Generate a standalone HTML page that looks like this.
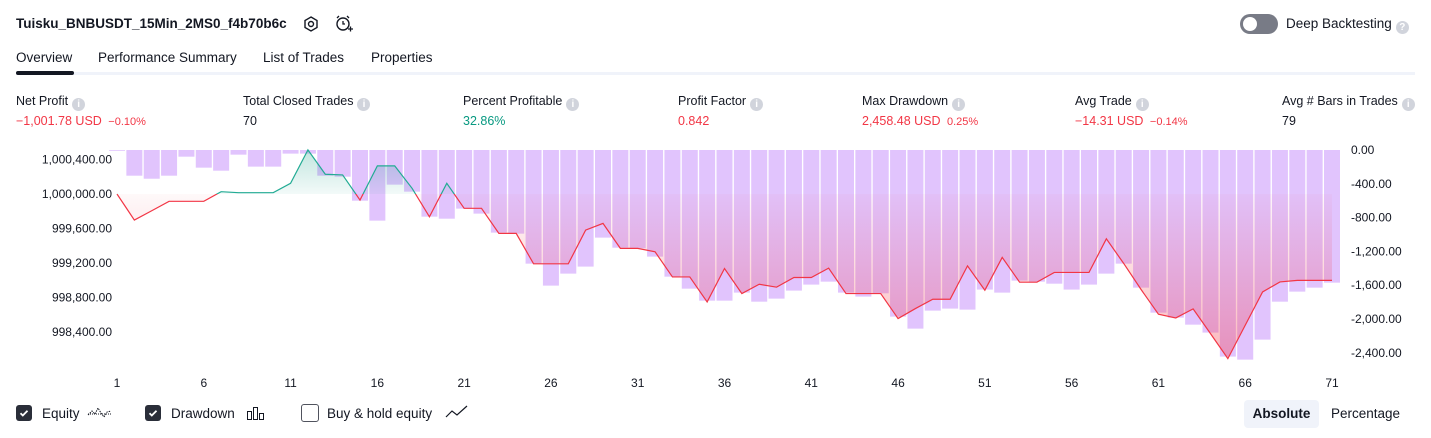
<!DOCTYPE html>
<html><head><meta charset="utf-8">
<style>
body{margin:0;width:1431px;height:438px;background:#fff;font-family:"Liberation Sans",sans-serif;color:#131722;position:relative;overflow:hidden}
.abs{position:absolute;white-space:nowrap}
.info{display:inline-block;width:13px;height:13px;border-radius:50%;background:#d1d4dc;color:#fff;font-size:10px;line-height:13px;text-align:center;vertical-align:-2px;margin-left:4px;font-weight:bold}
.lbl{font-size:12.5px}
.val{font-size:12.5px;top:114px}
.red{color:#f23645}.grn{color:#089981}
.tab{font-size:13.5px;top:50px}
.cb{position:absolute;width:16px;height:16px;border-radius:3px;top:405px}
</style></head><body>
<div class="abs" style="left:16px;top:16px;font-size:13.5px;font-weight:bold">Tuisku_BNBUSDT_15Min_2MS0_f4b70b6c</div>
<svg class="abs" style="left:302px;top:15px" width="18" height="18"><polygon points="9,2 15,5.5 15,12.5 9,16 3,12.5 3,5.5" fill="none" stroke="#131722" stroke-width="1.4"/><circle cx="9" cy="9" r="2.5" fill="none" stroke="#131722" stroke-width="1.4"/></svg>
<svg class="abs" style="left:334px;top:14px" width="20" height="20"><circle cx="9" cy="10" r="6" fill="none" stroke="#131722" stroke-width="1.4"/><path d="M9 7v3h2M3 4l2-2M15 4l-2-2M14 15h5M16.5 12.5v5" stroke="#131722" stroke-width="1.3" fill="none"/></svg>
<div class="abs" style="left:1240px;top:14px;width:38px;height:20px;border-radius:10px;background:#787b86"><div style="position:absolute;left:3px;top:3px;width:14px;height:14px;border-radius:50%;background:#fff"></div></div>
<div class="abs" style="left:1286px;top:16px;font-size:13.5px">Deep Backtesting<span class="info">?</span></div>

<div class="abs tab" style="left:16px">Overview</div>
<div class="abs tab" style="left:98px">Performance Summary</div>
<div class="abs tab" style="left:263px">List of Trades</div>
<div class="abs tab" style="left:371px">Properties</div>
<div class="abs" style="left:16px;top:72px;width:1399px;height:3px;background:#f0f3fa"></div>
<div class="abs" style="left:16px;top:71px;width:58px;height:4px;border-radius:2px;background:#131722"></div>

<div class="abs lbl" style="left:16px;top:94px">Net Profit<span class="info">i</span></div>
<div class="abs val red" style="left:16px">−1,001.78 USD <span style="font-size:11px;margin-left:3px">−0.10%</span></div>
<div class="abs lbl" style="left:243px;top:94px">Total Closed Trades<span class="info">i</span></div>
<div class="abs val" style="left:243px">70</div>
<div class="abs lbl" style="left:463px;top:94px">Percent Profitable<span class="info">i</span></div>
<div class="abs val grn" style="left:463px">32.86%</div>
<div class="abs lbl" style="left:678px;top:94px">Profit Factor<span class="info">i</span></div>
<div class="abs val red" style="left:678px">0.842</div>
<div class="abs lbl" style="left:862px;top:94px">Max Drawdown<span class="info">i</span></div>
<div class="abs val red" style="left:862px">2,458.48 USD <span style="font-size:11px;margin-left:3px">0.25%</span></div>
<div class="abs lbl" style="left:1075px;top:94px">Avg Trade<span class="info">i</span></div>
<div class="abs val red" style="left:1075px">−14.31 USD <span style="font-size:11px;margin-left:3px">−0.14%</span></div>
<div class="abs lbl" style="left:1282px;top:94px">Avg # Bars in Trades<span class="info">i</span></div>
<div class="abs val" style="left:1282px">79</div>

<svg id="chart" class="abs" style="left:0;top:0" width="1431" height="400"></svg>

<div class="cb" style="left:16px;background:#2a2e39"><svg width="16" height="16"><path d="M4.5 8.2l2.3 2.3 4.7-4.8" stroke="#fff" stroke-width="1.8" fill="none"/></svg></div>
<div class="abs" style="left:42px;top:406px;font-size:13.5px">Equity</div>
<svg class="abs" style="left:87px;top:403px" width="26" height="20"><path d="M1 12l4-4 3 3 3-6 3 5 3 4 3-5 4-1" stroke="#131722" fill="none" stroke-dasharray="1.5 1"/><path d="M1 11h24" stroke="#131722" stroke-dasharray="1 1"/></svg>
<div class="cb" style="left:145px;background:#2a2e39"><svg width="16" height="16"><path d="M4.5 8.2l2.3 2.3 4.7-4.8" stroke="#fff" stroke-width="1.8" fill="none"/></svg></div>
<div class="abs" style="left:171px;top:406px;font-size:13.5px">Drawdown</div>
<svg class="abs" style="left:246px;top:405px" width="20" height="16"><rect x="1.5" y="6.5" width="4" height="8" fill="none" stroke="#131722"/><rect x="7.5" y="2.5" width="4" height="12" fill="none" stroke="#131722"/><rect x="13.5" y="8.5" width="4" height="6" fill="none" stroke="#131722"/></svg>
<div class="cb" style="left:301px;border:1px solid #50535e;width:16px;height:16px;top:404px"></div>
<div class="abs" style="left:327px;top:406px;font-size:13.5px">Buy &amp; hold equity</div>
<svg class="abs" style="left:445px;top:404px" width="24" height="16"><path d="M1 13l6-6 5 4 10-9" stroke="#131722" fill="none" stroke-width="1.2"/></svg>
<div class="abs" style="left:1244px;top:400px;width:75px;height:28px;border-radius:4px;background:#f0f3fa;font-size:13.5px;font-weight:bold;text-align:center;line-height:28px">Absolute</div>
<div class="abs" style="left:1331px;top:406px;font-size:13.5px">Percentage</div>

<script>
const trades = Array.from({length:71},(_,i)=>i+1);
const equity = [1000000,999698,999806,999915,999915,999915,1000027,1000015,1000015,1000015,1000124,1000512,1000229,1000221,999930,1000326,1000326,1000066,999736,1000124,999834,999834,999543,999543,999190,999190,999190,999581,999659,999369,999369,999329,999038,999038,998748,999136,998845,998953,998919,999031,999031,999140,998845,998845,998845,998555,998671,998779,998779,999166,998884,999264,998977,998977,999090,999090,999090,999480,999194,998892,998605,998562,998667,998380,998090,998477,998864,998980,998998,998998,998998];
const drawdown = [-8,-304,-340,-304,-79,-209,-245,-55,-197,-197,-43,-43,-304,-316,-600,-836,-410,-493,-789,-813,-694,-753,-978,-990,-1345,-1605,-1463,-1380,-1037,-1156,-1163,-1262,-1499,-1641,-1783,-1783,-1688,-1795,-1759,-1664,-1593,-1558,-1688,-1735,-1696,-1972,-2114,-1901,-1877,-1889,-1652,-1688,-1546,-1558,-1582,-1652,-1593,-1463,-1345,-1629,-1925,-1984,-2067,-2161,-2445,-2481,-2244,-1795,-1676,-1629,-1570];
const leftTicks = [1000400,1000000,999600,999200,998800,998400];
const leftTickLabels = ["1,000,400.00","1,000,000.00","999,600.00","999,200.00","998,800.00","998,400.00"];
const rightTicks = [0,-400,-800,-1200,-1600,-2000,-2400];
const rightTickLabels = ["0.00","-400.00","-800.00","-1,200.00","-1,600.00","-2,000.00","-2,400.00"];
const xTicks = [1,6,11,16,21,26,31,36,41,46,51,56,61,66,71];
const initialCapital = 1000000;

const NS="http://www.w3.org/2000/svg";
const svg=document.getElementById('chart');
const X=t=>117+(t-1)*(1332-117)/70;
const YE=v=>194+(1000000-v)*0.0862;
const YD=d=>150-d*(33.8/400);
function mk(tag,attrs,parent){const e=document.createElementNS(NS,tag);for(const k in attrs)e.setAttribute(k,attrs[k]);(parent||svg).appendChild(e);return e;}

const base=YE(initialCapital);
const defs=mk('defs',{});
defs.innerHTML='<linearGradient id="gRed" gradientUnits="userSpaceOnUse" x1="0" y1="'+base+'" x2="0" y2="360"><stop offset="0" stop-color="#f23645" stop-opacity="0.03"/><stop offset="1" stop-color="#f23645" stop-opacity="0.36"/></linearGradient>'+
'<linearGradient id="gGrn" gradientUnits="userSpaceOnUse" x1="0" y1="150" x2="0" y2="'+base+'"><stop offset="0" stop-color="#089981" stop-opacity="0.25"/><stop offset="1" stop-color="#089981" stop-opacity="0.05"/></linearGradient>'+
'<clipPath id="cAbove"><rect x="0" y="0" width="1431" height="'+base+'"/></clipPath>'+
'<clipPath id="cBelow"><rect x="0" y="'+base+'" width="1431" height="400"/></clipPath>';

const bw=16;
drawdown.forEach((d,i)=>{
  const r=mk('rect',{x:X(trades[i])-bw/2,y:YD(0),width:bw,height:Math.max(0.8,YD(d)-YD(0)),fill:'#e1c4fd'});
  
  
});

let pts=equity.map((v,i)=>X(trades[i])+','+YE(v)).join(' ');
let areaPts=X(1)+','+base+' '+pts+' '+X(71)+','+base;
const aG=mk('polygon',{points:areaPts,fill:'url(#gGrn)','clip-path':'url(#cAbove)'});


const aR=mk('polygon',{points:areaPts,fill:'url(#gRed)','clip-path':'url(#cBelow)'});


const lG=mk('polyline',{points:pts,fill:'none',stroke:'#22ab94','stroke-width':1.2,'clip-path':'url(#cAbove)'});


const lR=mk('polyline',{points:pts,fill:'none',stroke:'#f23645','stroke-width':1.2,'clip-path':'url(#cBelow)'});



leftTicks.forEach((v,i)=>{
  const t=mk('text',{x:112,y:YE(v)+4,'text-anchor':'end','font-size':12,fill:'#131722','font-family':'Liberation Sans, sans-serif'});
  t.textContent=leftTickLabels[i];
  
  
});
rightTicks.forEach((v,i)=>{
  const t=mk('text',{x:1351,y:YD(v)+4,'font-size':12,fill:'#131722','font-family':'Liberation Sans, sans-serif'});
  t.textContent=rightTickLabels[i];
  
  
});
xTicks.forEach(v=>{
  const t=mk('text',{x:X(v),y:387,'text-anchor':'middle','font-size':12,fill:'#131722','font-family':'Liberation Sans, sans-serif'});
  t.textContent=v;
  
  
});
</script>
</body></html>
